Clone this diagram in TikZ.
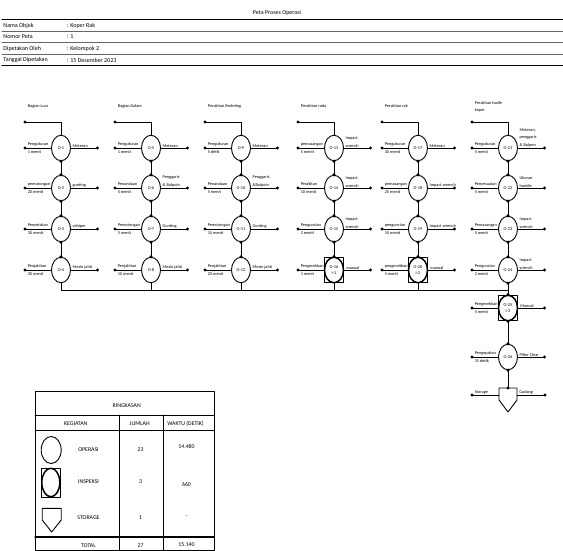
\documentclass[tikz,border=0pt]{standalone}
\usepackage{fontspec}
\setmainfont{Carlito}
\usetikzlibrary{shapes.geometric}

\begin{document}
\begin{tikzpicture}[x=1pt, y=-1pt, line join=round, line cap=round,
    line width=0.9pt, font=\fontsize{4.3}{5}\selectfont,
    op/.style={ellipse, draw, fill=white, minimum width=19pt,
      minimum height=25.5pt, inner sep=0pt, align=center,
      font=\fontsize{4.3}{6.5}\selectfont},
    insp/.style={op, line width=1.5pt},
    kotak/.style={draw, fill=white, minimum width=19pt,
      minimum height=25.5pt, inner sep=0pt},
    ket/.style={inner sep=0.5pt, align=left, font=\fontsize{4.3}{8}\selectfont},
    alat/.style={inner sep=0.5pt, align=left, anchor=south west,
      font=\fontsize{4.3}{7.6}\selectfont},
    kepala/.style={anchor=west, inner sep=0pt, font=\fontsize{6}{7}\selectfont},
    tabel/.style={inner sep=0pt, font=\fontsize{5.8}{7}\selectfont}]
  \def\titik{1.7pt}
  \useasboundingbox (0,0) rectangle (563,551);

  % kepala peta
  \node[font=\fontsize{6}{7}\selectfont, inner sep=0pt] (judul) at (277,13) {Peta Proses Operasi};
  \draw[line width=1.1pt] (2,19.5) -- (563,19.5);
  \draw[line width=0.7pt, black!60] (2,31) -- (563,31) (2,42.5) -- (563,42.5)
    (2,54) -- (563,54);
  \draw[line width=1.1pt] (2,65.5) -- (563,65.5);
  \foreach \y/\a/\b [count=\i] in {25.5/Nama Objek/Koper Rak, 37/Nomor Peta/1,
      48.5/Dipetakan Oleh/Kelompok 2, 60/Tanggal Dipetakan/15 Desember 2023}{
    \node[kepala] (ka\i) at (3,\y) {\a};
    \node[kepala] (kb\i) at (66.5,\y) {: \b};
  }

  % operasi
  \foreach \n/\x/\y/\kiri/\kanan in {
      1/61/148/{Pengukuran\\1 menit}/Meteran,
      2/61/188/{pemotongan\\20 menit}/gunting,
      3/61/229/{Penyetakan\\30 menit}/vehiper,
      4/61/270/{Penjahitan\\30 menit}/Mesin jahit,
      5/151/148/{Pengukuran\\1 menit}/Meteran,
      6/151/188/{Penandaan\\5 menit}/{Penggaris\\\& Bulpoin},
      7/151/229/{Pemotongan\\5 menit}/Gunting,
      8/151/270/{Penjahitan\\10 menit}/Mesin jahit,
      9/241/148/{Pengukuran\\5 detik}/Meteran,
      10/241/188/{Penandaan\\5 menit}/{Penggaris\\\&Bulpoin},
      11/241/229/{Pemotongan\\15 menit}/Gunting,
      12/241/270/{Penjahitan\\20 menit}/Mesin jahit,
      13/334/148/{pemasangan\\5 menit}/{Impact\\wrench},
      14/334/188/{Perakitan\\10 menit}/{Impact\\wrench},
      15/334/229/{Penguncian\\2 menit}/{Impact\\wrench},
      17/418/148/{Pengukuran\\30 menit}/Meteran,
      18/418/188/{pemasangan\\25 menit}/Impact wrench,
      19/418/229/{penguncian\\10 menit}/Impact wrench,
      21/508/148/{Pengukuran\\5 menit}/{Meteran,\\penggaris\\\& Bulpen},
      22/508/188/{Penyesuaian\\5 menit}/{Ukuran\\handle},
      23/508/229/{Pemasangan\\5 menit}/{Impact\\wrench},
      24/508/270/{Penguncian\\2 menit}/{Impact\\wrench},
      26/508/357/{Pengepakan\\15 detik}/Pilter Clear}{
    \node[op] (o\n) at (\x,\y) {O-\n};
    \coordinate (l\n) at (\x-36,\y);
    \coordinate (r\n) at (\x+36.5,\y);
    \draw (l\n) -- (o\n) -- (r\n);
    \fill (l\n) circle (\titik) (r\n) circle (\titik);
    \node[ket, anchor=west] (kr\n) at ([xshift=1.8pt]l\n) {\kiri};
    \node[alat] (kn\n) at ([xshift=0.8pt]o\n.east) {\kanan};
  }

  % inspeksi
  \foreach \n/\x/\y/\kiri/\kanan/\i in {
      16/334/270/{Pengecekkan\\1 menit}/manual/1,
      20/418/270/{pengecekkan\\5 menit}/manual/2,
      25/508/308/{Pengecekkan\\5 menit}/Manual/3}{
    \node[kotak] (k\n) at (\x,\y) {};
    \node[insp] (o\n) at (\x,\y) {O-\n\\I-\i};
    \coordinate (l\n) at (\x-36,\y);
    \coordinate (r\n) at (\x+36.5,\y);
    \draw (l\n) -- (k\n) -- (r\n);
    \fill (l\n) circle (\titik) (r\n) circle (\titik);
    \node[ket, anchor=west] (kr\n) at ([xshift=1.8pt]l\n) {\kiri};
    \node[alat] (kn\n) at ([xshift=1.5pt]k\n.east |- l\n) {\kanan};
  }

  % bagian
  \foreach \x/\n/\judul in {61/1/Bagian Luar, 151/5/Bagian Dalam,
      241/9/Perakitan Resleting, 334/13/Perakitan roda, 418/17/Perakitan rak,
      508/21/{Perakitan hadle\\koper}}{
    \node[ket, anchor=west, font=\fontsize{4.3}{7}\selectfont] (bag\n) at (\x-34,106.5) {\judul};
    \coordinate (t\n) at (\x-36,122);
    \draw (t\n) -| (o\n);
    \fill (t\n) circle (\titik);
  }

  % penghubung
  \foreach \a/\b in {1/2, 2/3, 3/4, 5/6, 6/7, 7/8, 9/10, 10/11, 11/12,
      13/14, 14/15, 15/16, 17/18, 18/19, 19/20, 21/22, 22/23, 23/24,
      24/25, 25/26}{
    \draw (o\a) -- (o\b);
    \fill (o\a.south) circle (\titik) (o\b.north) circle (\titik);
  }
  \coordinate (ujung) at (508,290);
  \draw (o4) |- (ujung);
  \foreach \n in {8,12,16,20}
    \draw (o\n) -- (o\n |- ujung);

  % storage
  \coordinate (st) at (508,388);
  \draw[fill=white] (st) ++(-9,0) coordinate (st1) -- ++(18,0) coordinate (st2)
    -- ++(0,12) -- ++(-9,12) -- ++(-9,-12) -- cycle;
  \coordinate (lst) at (472,395);
  \coordinate (rst) at (545,395);
  \draw (lst) -- (st1 |- lst) (st2 |- rst) -- (rst);
  \draw (o26) -- (st);
  \fill (lst) circle (\titik) (rst) circle (\titik) (st) circle (\titik)
    (o26.south) circle (\titik);
  \node[ket, anchor=south west] (storage) at ([xshift=1.8pt]lst) {Storage};
  \node[alat] (gudang) at ([xshift=1.5pt]st2 |- rst) {Gudang};

  % ringkasan
  \draw (35,391) rectangle (214,550);
  \draw (35,415) -- (214,415) (35,430) -- (214,430)
    (119.3,415) -- (119.3,550) (163.3,415) -- (163.3,550);
  \draw[line width=1.2pt] (35,537) -- (214,537);
  \node[tabel] (ringkasan) at (126.7,405.5) {RINGKASAN};
  \node[tabel] (kegiatan) at (75.8,423.5) {KEGIATAN};
  \node[tabel] (jumlah) at (139.7,423.5) {JUMLAH};
  \node[tabel] (waktu) at (185.5,423.5) {WAKTU (DETIK)};
  \foreach \y/\a/\b/\c/\d [count=\i] in {449.3/OPERASI/23/14.480/447,
      482/INSPEKSI/3/660/485, 517.3/STORAGE/1/-/517, 546/TOTAL/27/15.140/545}{
    \node[tabel] (ra\i) at (88.5,\y) {\a};
    \node[tabel] (rb\i) at (140.5,\y) {\b};
    \node[tabel] (rc\i) at (186.5,\d) {\c};
  }
  \node[op, minimum width=20pt, minimum height=27pt] (simop) at (51.2,450) {};
  \node[kotak, minimum width=19pt, minimum height=29pt] (simk) at (50.8,482.5) {};
  \node[insp, minimum width=18pt, minimum height=28.5pt] (simi) at (50.8,482.5) {};
  \draw (42.2,508.3) -- (61.2,508.3) -- (61.2,520) -- (51.7,532)
    -- (42.2,520) -- cycle;
\end{tikzpicture}
\end{document}
